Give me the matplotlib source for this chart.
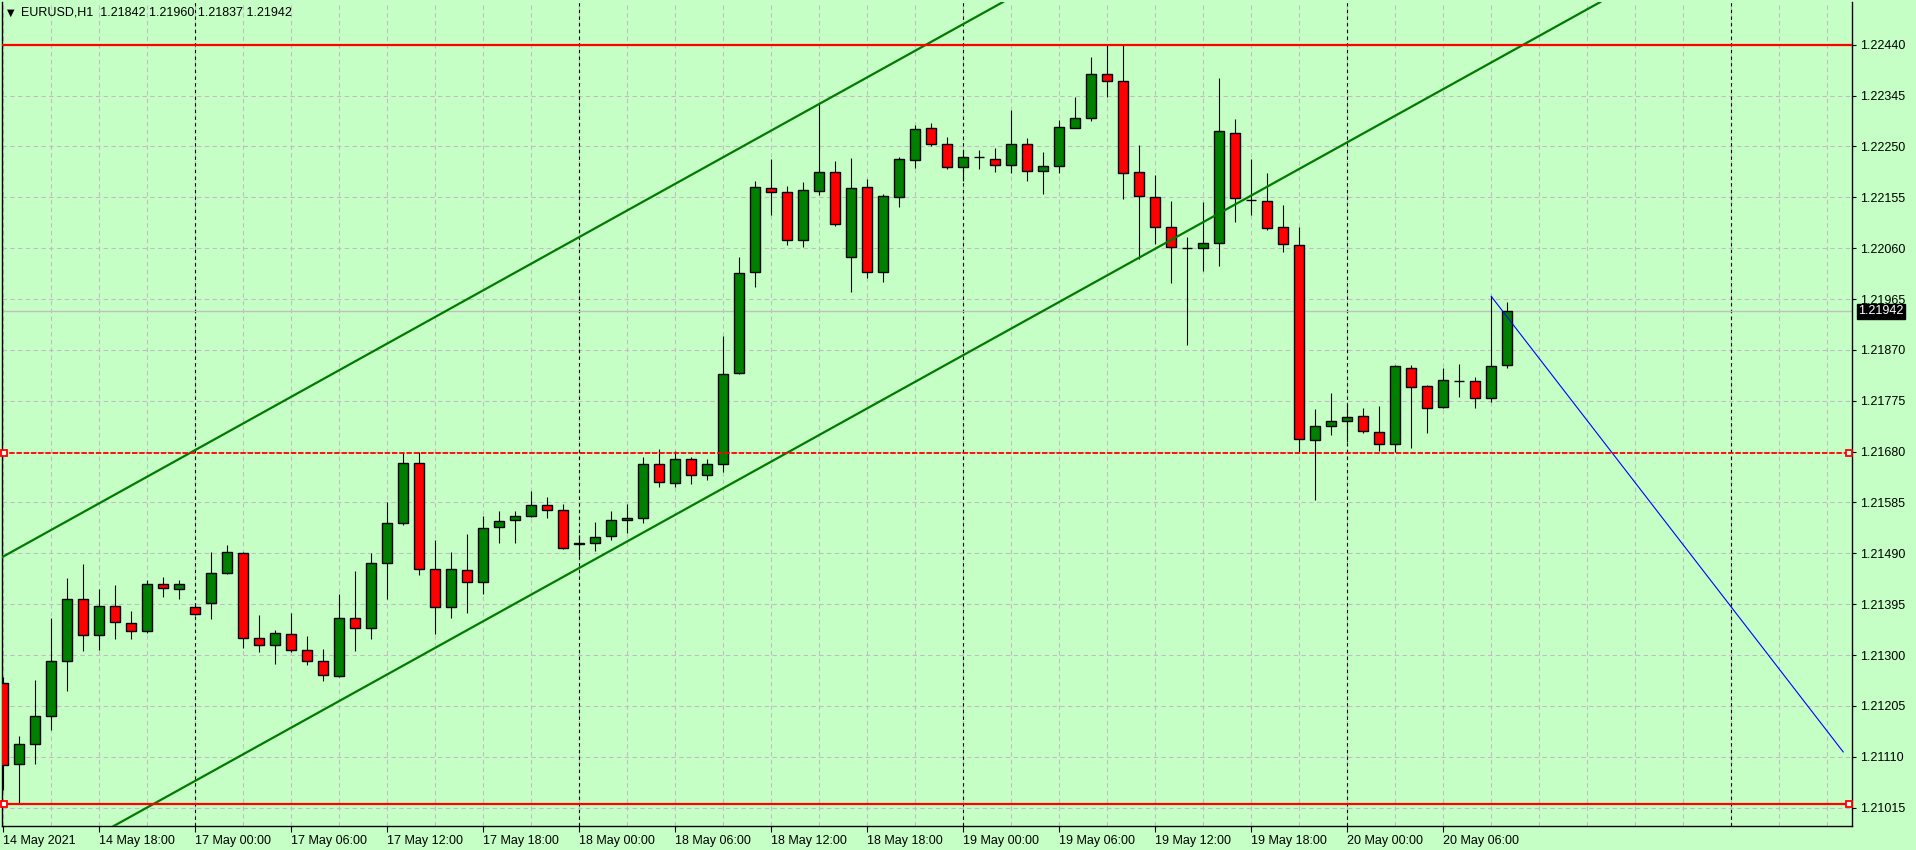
import matplotlib
matplotlib.use("Agg")
import matplotlib.pyplot as plt
import numpy as np
import pandas as pd
from matplotlib.patches import Rectangle

plt.rcParams["font.family"] = ["Liberation Sans", "DejaVu Sans"]

# ---------------- data ----------------
symbol = "EURUSD,H1"
times = list(pd.date_range("2021-05-14 12:00", "2021-05-14 23:00", freq="h")) + \
        list(pd.date_range("2021-05-17 00:00", "2021-05-20 10:00", freq="h"))

opens = [1.21247, 1.21096, 1.21133, 1.21187, 1.21288, 1.21404, 1.21337, 1.21391, 1.21359, 1.21344,
         1.21432, 1.21423, 1.21389, 1.21397, 1.21453, 1.21490, 1.21331, 1.21318, 1.21339, 1.21309,
         1.21288, 1.21260, 1.21370, 1.21350, 1.21471, 1.21546, 1.21658, 1.21460, 1.21389, 1.21458,
         1.21436, 1.21539, 1.21552, 1.21559, 1.21580, 1.21570, 1.21507, 1.21510, 1.21522, 1.21552,
         1.21555, 1.21656, 1.21621, 1.21667, 1.21636, 1.21656, 1.21826, 1.22015, 1.22172, 1.22164,
         1.22075, 1.22167, 1.22202, 1.22043, 1.22174, 1.22015, 1.22156, 1.22224, 1.22284, 1.22254,
         1.22211, 1.22231, 1.22226, 1.22215, 1.22254, 1.22205, 1.22213, 1.22285, 1.22303, 1.22385,
         1.22373, 1.22202, 1.22155, 1.22099, 1.22060, 1.22060, 1.22069, 1.22276, 1.22150, 1.22149,
         1.22099, 1.22065, 1.21701, 1.21727, 1.21738, 1.21746, 1.21716, 1.21695, 1.21836, 1.21802,
         1.21763, 1.21811, 1.21811, 1.21780, 1.21842]
highs = [1.21259, 1.21149, 1.21253, 1.21369, 1.21444, 1.21470, 1.21423, 1.21431, 1.21382, 1.21441,
         1.21445, 1.21441, 1.21397, 1.21492, 1.21505, 1.21492, 1.21374, 1.21347, 1.21378, 1.21336,
         1.21311, 1.21414, 1.21457, 1.21490, 1.21586, 1.21679, 1.21679, 1.21515, 1.21492, 1.21526,
         1.21559, 1.21569, 1.21569, 1.21606, 1.21595, 1.21583, 1.21525, 1.21548, 1.21569, 1.21583,
         1.21670, 1.21685, 1.21681, 1.21670, 1.21666, 1.21896, 1.22043, 1.22185, 1.22227, 1.22176,
         1.22183, 1.22331, 1.22223, 1.22228, 1.22189, 1.22161, 1.22230, 1.22290, 1.22294, 1.22268,
         1.22243, 1.22243, 1.22247, 1.22318, 1.22266, 1.22239, 1.22299, 1.22342, 1.22417, 1.22440,
         1.22440, 1.22252, 1.22196, 1.22149, 1.22080, 1.22146, 1.22377, 1.22301, 1.22226, 1.22200,
         1.22140, 1.22099, 1.21760, 1.21789, 1.21768, 1.21761, 1.21766, 1.21841, 1.21841, 1.21804,
         1.21837, 1.21843, 1.21819, 1.21970, 1.21960]
lows = [1.21048, 1.21023, 1.21097, 1.21159, 1.21233, 1.21308, 1.21310, 1.21330, 1.21330, 1.21342,
        1.21408, 1.21405, 1.21375, 1.21368, 1.21451, 1.21314, 1.21306, 1.21284, 1.21306, 1.21282,
        1.21252, 1.21258, 1.21308, 1.21329, 1.21405, 1.21543, 1.21450, 1.21340, 1.21370, 1.21379,
        1.21414, 1.21510, 1.21510, 1.21557, 1.21556, 1.21498, 1.21485, 1.21495, 1.21515, 1.21527,
        1.21547, 1.21613, 1.21614, 1.21620, 1.21626, 1.21641, 1.21825, 1.21988, 1.22121, 1.22066,
        1.22062, 1.22159, 1.22101, 1.21978, 1.22004, 1.21997, 1.22137, 1.22210, 1.22251, 1.22208,
        1.22186, 1.22208, 1.22203, 1.22201, 1.22186, 1.22162, 1.22201, 1.22285, 1.22297, 1.22343,
        1.22152, 1.22039, 1.22067, 1.21994, 1.21880, 1.22018, 1.22027, 1.22108, 1.22122, 1.22093,
        1.22052, 1.21679, 1.21590, 1.21711, 1.21697, 1.21714, 1.21682, 1.21680, 1.21687, 1.21715,
        1.21761, 1.21782, 1.21761, 1.21772, 1.21837]
closes = [1.21094, 1.21133, 1.21187, 1.21288, 1.21404, 1.21337, 1.21391, 1.21361, 1.21344, 1.21432,
          1.21425, 1.21432, 1.21376, 1.21453, 1.21492, 1.21331, 1.21318, 1.21341, 1.21309, 1.21288,
          1.21262, 1.21369, 1.21350, 1.21471, 1.21546, 1.21658, 1.21460, 1.21389, 1.21460, 1.21436,
          1.21537, 1.21550, 1.21559, 1.21580, 1.21570, 1.21499, 1.21510, 1.21520, 1.21553, 1.21555,
          1.21656, 1.21623, 1.21667, 1.21636, 1.21656, 1.21824, 1.22013, 1.22174, 1.22164, 1.22075,
          1.22168, 1.22202, 1.22105, 1.22172, 1.22015, 1.22157, 1.22226, 1.22282, 1.22255, 1.22211,
          1.22230, 1.22231, 1.22215, 1.22254, 1.22205, 1.22213, 1.22286, 1.22303, 1.22385, 1.22372,
          1.22200, 1.22157, 1.22099, 1.22062, 1.22060, 1.22069, 1.22278, 1.22153, 1.22150, 1.22097,
          1.22067, 1.21703, 1.21727, 1.21738, 1.21744, 1.21718, 1.21695, 1.21839, 1.21800, 1.21761,
          1.21813, 1.21811, 1.21781, 1.21839, 1.21942]

price_ticks = [1.21015, 1.21110, 1.21205, 1.21300, 1.21395, 1.21490, 1.21585, 1.21680,
               1.21775, 1.21870, 1.21965, 1.22060, 1.22155, 1.22250, 1.22345, 1.22440]

# drawn objects (time, price)
upper_channel = [("2021-05-14 12:00", 1.21484), ("2021-05-18 23:00", 1.22462)]
lower_channel = [("2021-05-17 00:00", 1.21065), ("2021-05-19 21:00", 1.22208)]
blue_line = [("2021-05-20 09:00", 1.21970), ("2021-05-21 07:00", 1.21119)]
resistance_level = 1.22440
support_dashed = 1.21678
support_low = 1.21022

# ---------------- style ----------------
BG = "#C6FFC6"
GRID = "#C4BCC4"
BULL = "#008000"
BEAR = "#FF0000"

W, H = 1916, 850
fig = plt.figure(figsize=(W / 100, H / 100), dpi=100, facecolor=BG)
ax = fig.add_axes([2 / W, 24 / H, 1850 / W, 824 / H])
ax.set_facecolor(BG)

future = list(pd.date_range(times[-1] + pd.Timedelta(hours=1), periods=30, freq="h"))
all_times = times + future
tindex = {t: i for i, t in enumerate(all_times)}


def tx(s):
    return tindex[pd.Timestamp(s)]


xmin, xmax = -0.08, 115.55
ymin, ymax = 1.209806, 1.225198
ax.set_xlim(xmin, xmax)
ax.set_ylim(ymin, ymax)

# grid
for p in price_ticks:
    ax.axhline(p, color=GRID, lw=0.8, dashes=(4, 3), zorder=0.5)
for i in range(0, int(xmax) + 1, 3):
    ax.axvline(i, color=GRID, lw=0.8, dashes=(4, 3), zorder=0.5)
# day separators
for i, t in enumerate(all_times):
    if t.hour == 0 and i < xmax:
        ax.axvline(i, color="black", lw=0.8, dashes=(3, 3), zorder=0.7)

# bid line
ax.axhline(closes[-1], color="#C0C0C0", lw=1.0, zorder=0.8)

# candles
bw = 0.6
for i, (o, h, l, c) in enumerate(zip(opens, highs, lows, closes)):
    ax.plot([i, i], [l, h], color="black", lw=0.8, zorder=2, solid_capstyle="butt")
    if c > o:
        fc = BULL
    elif c < o:
        fc = BEAR
    else:
        fc = "black"
    ax.add_patch(Rectangle((i - bw / 2, min(o, c)), bw, abs(c - o), facecolor=fc,
                           edgecolor="black", lw=1.0, zorder=3))

# channel lines
for line in (upper_channel, lower_channel):
    (t1, p1), (t2, p2) = line
    ax.axline((tx(t1), p1), (tx(t2), p2), color="#007A00", lw=1.6, zorder=4)

# blue line
(t1, p1), (t2, p2) = blue_line
ax.plot([tx(t1), tx(t2)], [p1, p2], color="#0000FF", lw=0.8, zorder=4)

# horizontal levels
ax.axhline(resistance_level, color="#FF0000", lw=1.6, zorder=4)
ax.axhline(support_dashed, color="#FF0000", lw=1.3, dashes=(3, 1), zorder=4)
ax.axhline(support_low, color="#FF0000", lw=1.6, zorder=4)
for lvl in (support_dashed, support_low):
    ax.plot([xmin + 0.12, xmax - 0.2], [lvl, lvl], ls="none", marker="s", ms=4.2,
            mfc="white", mec="#FF0000", mew=1.3, zorder=5, clip_on=False)

# axes styling
for s in ax.spines.values():
    s.set_color("black")
    s.set_linewidth(1.0)
ax.spines["top"].set_visible(False)
ax.yaxis.tick_right()
ax.set_yticks(price_ticks)
ax.set_yticklabels([f"{p:.5f}" for p in price_ticks])
ax.tick_params(axis="y", length=3, width=0.8, pad=3, labelsize=9, colors="black")

tick_pos, tick_lab = [], []
for i, t in enumerate(times):
    if t.hour % 6 == 0:
        tick_pos.append(i)
        tick_lab.append(t.strftime("%d %b %Y") if i == 0 else t.strftime("%d %b %H:%M"))
ax.set_xticks(tick_pos)
ax.set_xticklabels(tick_lab, ha="left")
ax.tick_params(axis="x", length=4, width=0.8, pad=2.5, labelsize=9, colors="black")

# current price label
ax.annotate(f"{closes[-1]:.5f}", xy=(1.0, closes[-1]), xycoords=("axes fraction", "data"),
            xytext=(4.5, 0), textcoords="offset points", va="center", ha="left",
            fontsize=9, color="white", zorder=10, annotation_clip=False,
            bbox=dict(boxstyle="square,pad=0.1", fc="black", ec="black"))

# header
fig.text(7 / W, 1 - 12.5 / H, "\u25BC", fontsize=7, va="center", ha="left", color="black",
         family="DejaVu Sans")
fig.text(21 / W, 1 - 12.5 / H,
         f"{symbol}  {opens[-1]:.5f} {highs[-1]:.5f} {lows[-1]:.5f} {closes[-1]:.5f}",
         fontsize=9, va="center", ha="left", color="black")

fig.savefig("out.png", dpi=100, facecolor=BG)
